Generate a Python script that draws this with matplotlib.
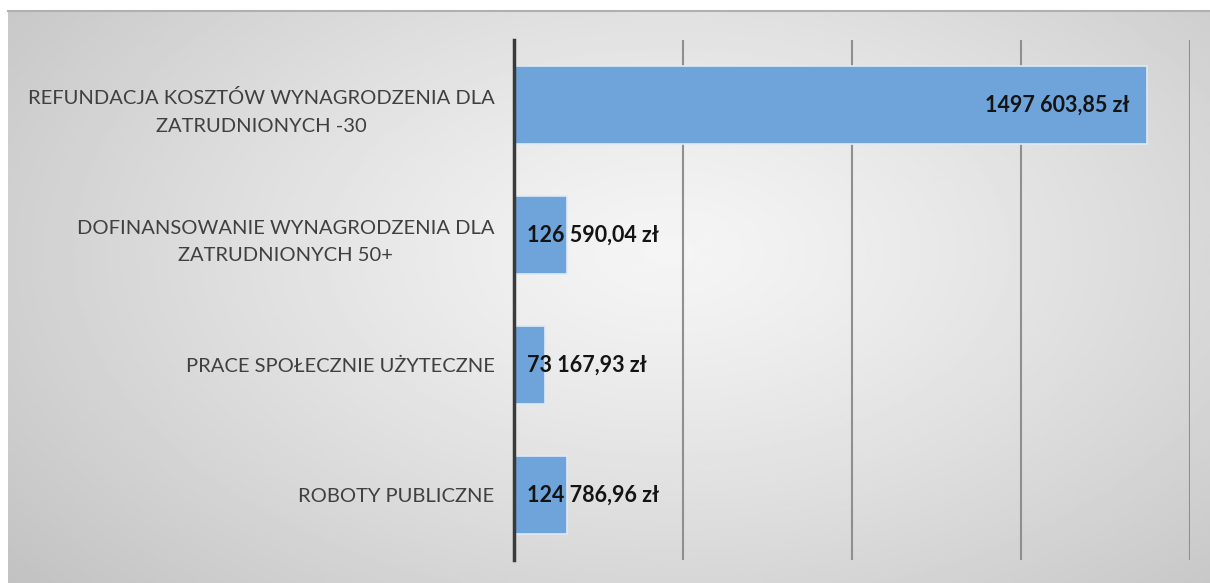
import numpy as np
import matplotlib
matplotlib.use("Agg")
import matplotlib.pyplot as plt

categories = [
    "REFUNDACJA KOSZTÓW WYNAGRODZENIA DLA\nZATRUDNIONYCH -30",
    "DOFINANSOWANIE WYNAGRODZENIA DLA\nZATRUDNIONYCH 50+",
    "PRACE SPOŁECZNIE UŻYTECZNE",
    "ROBOTY PUBLICZNE",
]
values = [1497603.85, 126590.04, 73167.93, 124786.96]
value_labels = ["1497 603,85 zł", "126 590,04 zł", "73 167,93 zł", "124 786,96 zł"]
x_ticks = [0, 400000, 800000, 1200000, 1600000]

W, H = 1210, 583
fig = plt.figure(figsize=(W / 100, H / 100), dpi=100)
fig.patch.set_facecolor("white")

# background panel with radial gradient
px0, py0 = 8, 11
bg = fig.add_axes([px0 / W, 0, 1 - px0 / W, 1 - py0 / H])
bg.set_axis_off()
nx, ny = 400, 200
xx, yy = np.meshgrid(np.linspace(0, 1, nx), np.linspace(0, 1, ny))
cx, cy = 0.55, 0.42
r = np.sqrt(((xx - cx) / 0.72) ** 2 + ((yy - cy) / 0.9) ** 2)
r = np.clip(r, 0, 1)
light, dark = 0.96, 0.76
img = light - (light - dark) * r ** 1.2
bg.imshow(img, cmap="gray", vmin=0, vmax=1, aspect="auto", extent=[0, 1, 1, 0])
bg.set_xlim(0, 1)
bg.set_ylim(1, 0)
fig.add_artist(plt.Line2D([px0 / W, 1], [1 - py0 / H, 1 - py0 / H],
                          transform=fig.transFigure, color="#b0b0b0", lw=1.5))

ax = fig.add_axes([514 / W, 23 / H, (1190 - 514) / W, (560 - 23 - 17) / H])
ax.patch.set_alpha(0)
ypos = np.arange(len(categories))
ax.barh(ypos, values, height=0.6, color="#6FA4DA", edgecolor="#dfeaf6", linewidth=1.2, zorder=3)
ax.set_xlim(0, 1600000)
ax.set_ylim(len(categories) - 0.5, -0.5)
ax.set_xticks(x_ticks)
ax.xaxis.grid(True, color="#8f8f8f", lw=1.5, zorder=0)
ax.tick_params(axis="x", length=0, labelbottom=False)
ax.tick_params(axis="y", length=0, pad=14)
ax.set_yticks(ypos)
ax.set_yticklabels(categories, fontsize=14.5, color="#404040", family="Lato",
                   ha="right", multialignment="center", linespacing=1.75)
for s in ["top", "right", "bottom"]:
    ax.spines[s].set_visible(False)
ax.spines["left"].set_color("#3a3a3a")
ax.spines["left"].set_linewidth(2.5)
ax.spines["left"].set_zorder(5)

for i, (v, lab) in enumerate(zip(values, value_labels)):
    if i == 0:
        ax.text(v - 40000, i, lab, ha="right", va="center", fontsize=15.5,
                fontweight="bold", color="#141414", family="Lato", zorder=6)
    else:
        ax.text(30000, i, lab, ha="left", va="center", fontsize=15.5,
                fontweight="bold", color="#141414", family="Lato", zorder=6)

fig.savefig("out.png", dpi=100)
